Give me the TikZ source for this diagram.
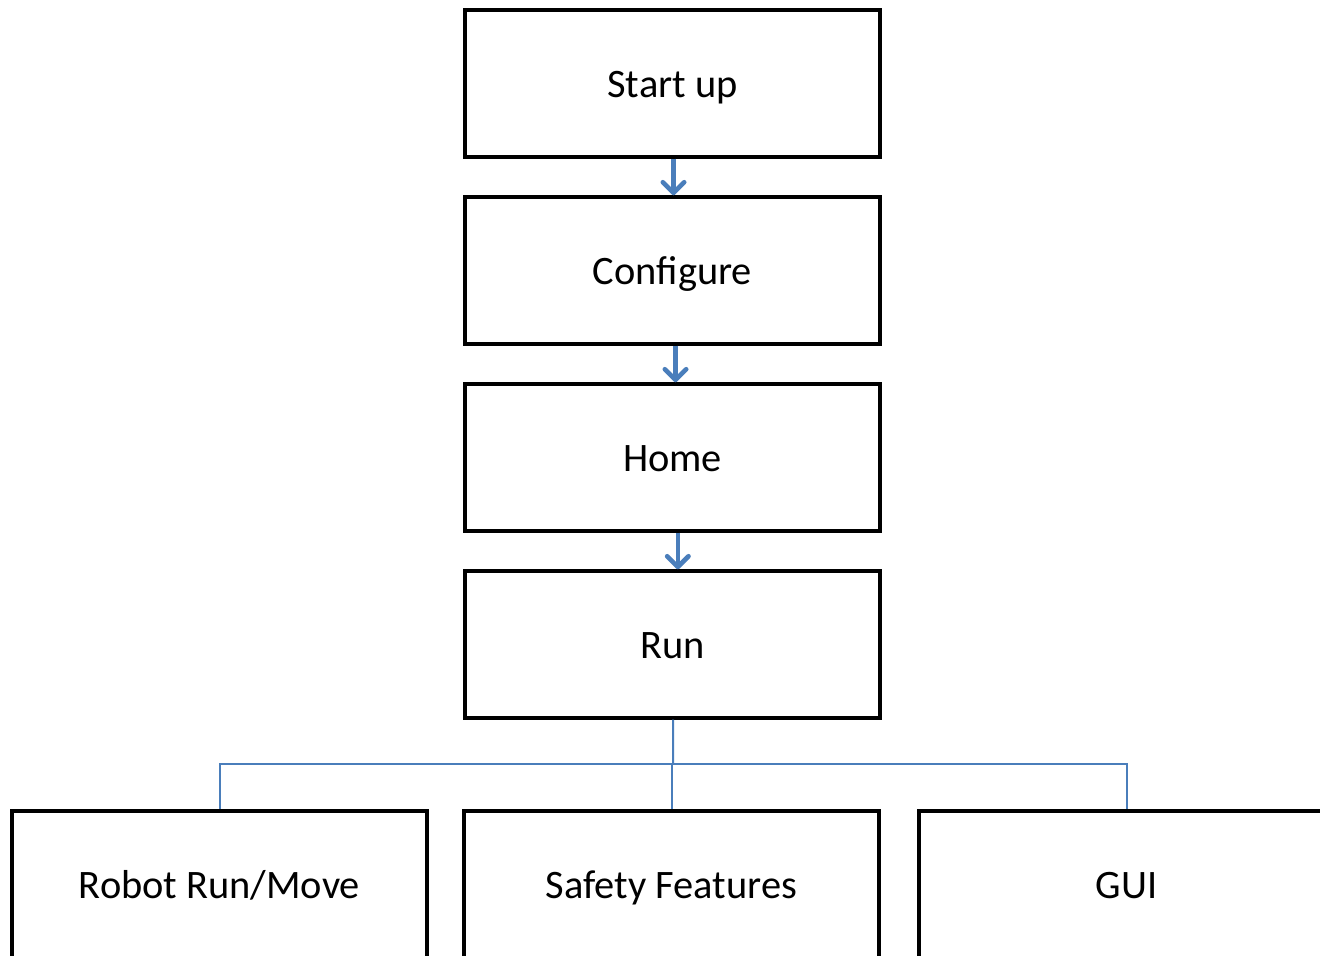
\documentclass[tikz,border=0pt]{standalone}
\usepackage{fontspec}
\setmainfont{Carlito}
\usetikzlibrary{arrows.meta}
\definecolor{linkblue}{RGB}{74,126,187}
\tikzset{
  box/.style={draw=black, line width=2.6pt, minimum width=311.25pt, minimum height=110.25pt, inner sep=0pt, font=\fontsize{30.3}{36}\selectfont, text height=21pt, text depth=0pt},
  flow/.style={draw=linkblue, line width=3.5pt, -{Straight Barb[length=8pt, width=16pt, line width=3.5pt, round]}},
  link/.style={draw=linkblue, line width=1.5pt}
}
\begin{document}
\begin{tikzpicture}[x=0.75pt, y=-0.75pt]
\useasboundingbox (0,0) rectangle (1320,956);
\clip (0,0) rectangle (1320,956);
\node[box] (start) at (672.5,83.5) {Start up};
\node[box] (conf) at (672.5,270.5) {Configure};
\node[box] (home) at (672.5,457.5) {Home};
\node[box] (run) at (672.5,644.5) {Run};
\node[box] (rr) at (219.5,884.5) {Robot Run/Move};
\node[box] (sf) at (671.5,884.5) {Safety Features};
\node[box] (gui) at (1126.5,884.5) {GUI};
\draw[flow] ([xshift=0.75pt]start.south) -- ([xshift=0.75pt]conf.north);
\draw[flow] ([xshift=2.25pt]conf.south) -- ([xshift=2.25pt]home.north);
\draw[flow] ([xshift=4pt]home.south) -- ([xshift=4pt]run.north);
\coordinate (bus) at (673,764);
\draw[link] ([xshift=0.4pt]run.south) -- (bus);
\draw[link] (bus) -| (rr.north);
\draw[link] (bus) -| (gui.north);
\draw[link] (sf.north |- bus) -- (sf.north);
\end{tikzpicture}
\end{document}
